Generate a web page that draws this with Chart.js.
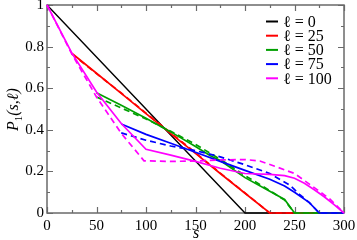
<!DOCTYPE html>
<html>
<head>
<meta charset="utf-8">
<script src="https://cdn.jsdelivr.net/npm/chart.js@4"></script>
<style>
  html, body { margin: 0; padding: 0; background: #fff; }
  #wrap { width: 357px; height: 240px; }
</style>
</head>
<body>
<div id="wrap"><canvas id="pChart"></canvas></div>
<script>
// tick labels
const xTicks = [0, 50, 100, 150, 200, 250, 300];
const yTicks = [0, 0.2, 0.4, 0.6, 0.8, 1];
const legendLabels = ['ℓ = 0', 'ℓ = 25', 'ℓ = 50', 'ℓ = 75', 'ℓ = 100'];
const colors = ['#000000', '#ff0000', '#00a000', '#0000ff', '#ff00ff'];

// l = 0
const s0 = [0, 200, 300];
const p0 = [1, 0, 0];

// l = 25
const s25 = [25, 50, 75, 100, 125, 150, 175, 200, 225, 300];
const p25 = [0.768, 0.672, 0.575, 0.478, 0.382, 0.287, 0.19, 0.095, 0, 0];
const s25d = [25, 50, 75, 100, 125, 150, 175, 200, 225, 300];
const p25d = [0.765, 0.67, 0.577, 0.48, 0.385, 0.29, 0.192, 0.096, 0, 0];

// l = 50
const s50 = [50, 75, 100, 125, 150, 165, 175, 200, 225, 240, 250, 300];
const p50 = [0.578, 0.518, 0.455, 0.39, 0.32, 0.275, 0.252, 0.17, 0.105, 0.065, 0, 0];
const s50d = [50, 75, 100, 125, 150, 175, 200, 225, 240, 250, 300];
const p50d = [0.558, 0.505, 0.452, 0.393, 0.33, 0.258, 0.18, 0.108, 0.062, 0, 0];

// l = 75
const s75 = [75, 100, 125, 150, 175, 200, 225, 240, 250, 265, 275, 300];
const p75 = [0.428, 0.378, 0.335, 0.292, 0.248, 0.205, 0.162, 0.13, 0.1, 0.05, 0, 0];
const s75d = [75, 100, 125, 150, 175, 200, 225, 245, 255, 265, 275, 300];
const p75d = [0.385, 0.35, 0.322, 0.3, 0.27, 0.232, 0.19, 0.135, 0.09, 0.05, 0, 0];

// l = 100
const s100 = [0, 25, 50, 75, 100, 125, 150, 175, 200, 225, 240, 250, 260, 270, 280, 290, 300];
const p100 = [1, 0.77, 0.582, 0.43, 0.306, 0.278, 0.248, 0.215, 0.19, 0.186, 0.18, 0.167, 0.143, 0.112, 0.078, 0.04, 0];
const s100d = [0, 25, 50, 75, 98, 125, 150, 175, 200, 215, 230, 250, 270, 285, 300];
const p100d = [1, 0.765, 0.558, 0.383, 0.251, 0.248, 0.25, 0.255, 0.257, 0.25, 0.225, 0.19, 0.122, 0.07, 0];

const pts = (xs, ys) => xs.map((v, i) => ({ x: v, y: ys[i] }));

const makeSet = (xs, ys, color, order, dashed, width) => ({
  data: pts(xs, ys),
  borderColor: color,
  backgroundColor: color,
  borderWidth: width || 1.7,
  borderDash: dashed ? [6, 4] : [],
  pointRadius: 0,
  tension: 0,
  fill: false,
  clip: 4,
  order: order
});

const datasets = [
  makeSet(s0, p0, colors[0], 10, false, 1.4),
  makeSet(s25d, p25d, colors[1], 9, true),
  makeSet(s25, p25, colors[1], 8, false),
  makeSet(s50d, p50d, colors[2], 7, true),
  makeSet(s50, p50, colors[2], 6, false),
  makeSet(s75d, p75d, colors[3], 5, true),
  makeSet(s75, p75, colors[3], 4, false),
  makeSet(s100d, p100d, colors[4], 3, true),
  makeSet(s100, p100, colors[4], 2, false)
];

const serif = "'Liberation Serif', 'Times New Roman', serif";

// frame with inward ticks on all four sides
const framePlugin = {
  id: 'frame',
  beforeDatasetsDraw(chart) {
    const { ctx, chartArea: a, scales: { x, y } } = chart;
    ctx.save();
    ctx.strokeStyle = '#6a6a6a';
    ctx.lineWidth = 1.2;
    for (let v = 0; v <= 300; v += 25) {
      const px = Math.round(x.getPixelForValue(v)) + 0.5;
      const len = v % 50 === 0 ? 6 : 3;
      ctx.beginPath();
      ctx.moveTo(px, a.bottom); ctx.lineTo(px, a.bottom - len);
      ctx.moveTo(px, a.top); ctx.lineTo(px, a.top + len);
      ctx.stroke();
    }
    for (let k = 0; k <= 10; k++) {
      const py = Math.round(y.getPixelForValue(k / 10)) + 0.5;
      const len = k % 2 === 0 ? 6 : 3;
      ctx.beginPath();
      ctx.moveTo(a.left, py); ctx.lineTo(a.left + len, py);
      ctx.moveTo(a.right, py); ctx.lineTo(a.right - len, py);
      ctx.stroke();
    }
    ctx.lineWidth = 1.5;
    ctx.strokeRect(a.left, a.top, a.right - a.left, a.bottom - a.top);
    ctx.restore();
  },
  afterDraw(chart) {
    const { ctx } = chart;
    ctx.save();
    // legend
    ctx.font = '16px ' + serif;
    ctx.textBaseline = 'middle';
    ctx.fillStyle = '#000';
    legendLabels.forEach((lab, i) => {
      const yy = 21.5 + i * 14.2;
      ctx.strokeStyle = colors[i];
      ctx.lineWidth = 2;
      ctx.beginPath();
      ctx.moveTo(266, yy); ctx.lineTo(278, yy);
      ctx.stroke();
      ctx.fillText(lab, 283, yy + 1);
    });
    // x title
    ctx.textBaseline = 'alphabetic';
    ctx.textAlign = 'center';
    ctx.font = 'italic 16px ' + serif;
    ctx.fillText('s', 196, 238);
    // y title
    ctx.translate(18, 131);
    ctx.rotate(-Math.PI / 2);
    ctx.textAlign = 'left';
    ctx.font = 'italic 16px ' + serif;
    ctx.fillText('P', 0, 0);
    let w = ctx.measureText('P').width;
    ctx.font = '11px ' + serif;
    ctx.fillText('1', w, 4);
    w += ctx.measureText('1').width;
    ctx.font = 'italic 16px ' + serif;
    ctx.fillText('(s,ℓ)', w, 0);
    ctx.restore();
  }
};

new Chart(document.getElementById('pChart'), {
  type: 'line',
  data: { datasets: datasets },
  options: {
    responsive: true,
    maintainAspectRatio: false,
    animation: false,
    layout: { padding: { top: 5, right: 13, left: 0, bottom: 0 } },
    plugins: { legend: { display: false }, tooltip: { enabled: false } },
    scales: {
      x: {
        type: 'linear',
        min: 0,
        max: 300,
        grid: { display: false, drawTicks: false },
        border: { display: false },
        afterBuildTicks: s => { s.ticks = xTicks.map(v => ({ value: v })); },
        afterFit: s => { s.height = 27; s.paddingLeft = 0; s.paddingRight = 0; },
        ticks: {
          maxRotation: 0,
          padding: 4,
          color: '#000',
          font: { family: serif, size: 15 },
          callback: v => String(v)
        }
      },
      y: {
        type: 'linear',
        min: 0,
        max: 1,
        grid: { display: false, drawTicks: false },
        border: { display: false },
        afterBuildTicks: s => { s.ticks = yTicks.map(v => ({ value: v })); },
        afterFit: s => { s.width = 47; s.paddingTop = 0; s.paddingBottom = 0; },
        ticks: {
          padding: 3,
          color: '#000',
          font: { family: serif, size: 15 },
          callback: v => String(v)
        }
      }
    }
  },
  plugins: [framePlugin]
});
</script>
</body>
</html>
